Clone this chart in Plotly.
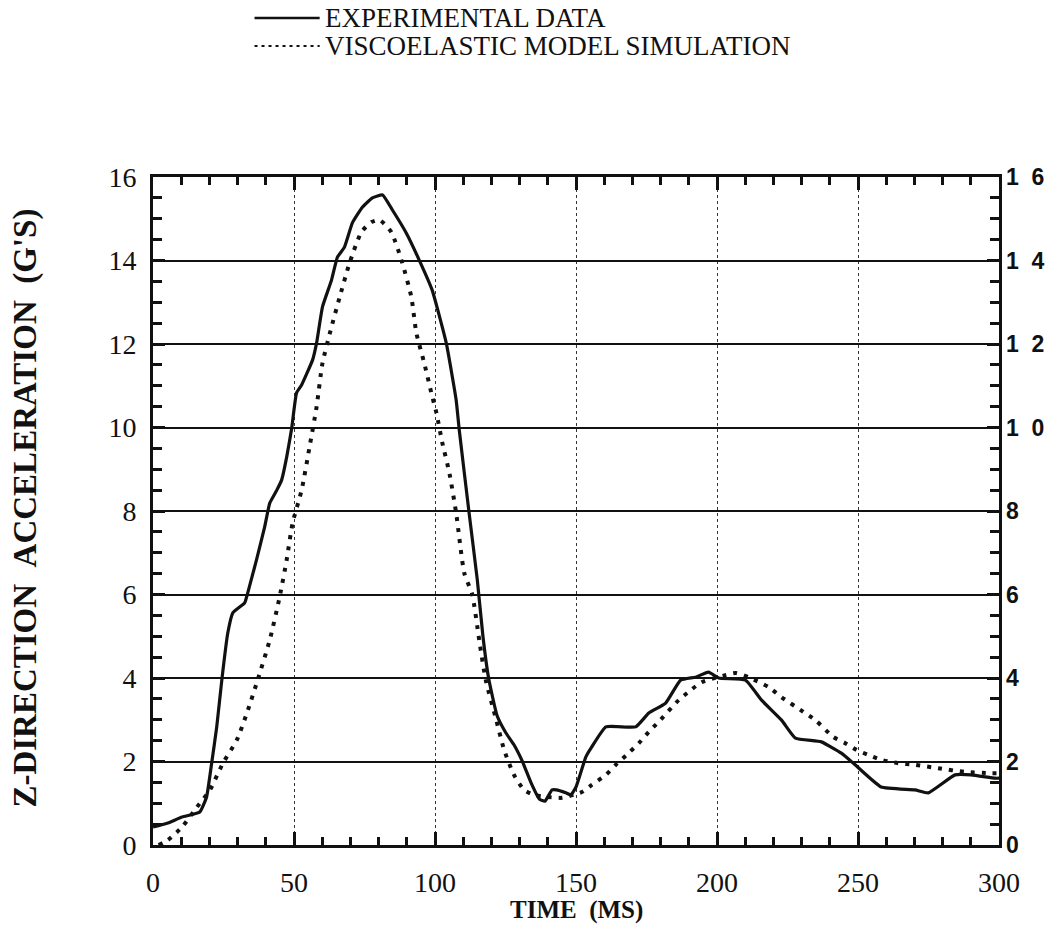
import plotly.graph_objects as go

# Measured Z-direction acceleration (G's) vs time (ms)
exp_time = [0, 5, 10.3, 16.6, 19, 20.8, 22.6, 24.4, 26.5, 28.3, 32.5, 33.6, 36.7, 39.6,
            41.4, 43.9, 45.6, 47.4, 49.2, 50.9, 52.7, 56.6, 58, 60.1, 63.3, 65.4, 67.9,
            70.7, 74.3, 77.8, 81.4, 84.9, 89.8, 94.4, 99, 104, 107.5, 108.6, 112.1, 115,
            117, 119, 122, 125, 128, 131, 134, 137, 139, 141.5, 143, 146.4, 148.2, 150,
            153.5, 155.6, 160.6, 171.2, 175.8, 181.8, 187.1, 192.4, 197, 200.6, 210.1,
            215.8, 222.9, 227.8, 237, 244.1, 249, 258.2, 270.2, 274.9, 284.4, 290.1,
            298.6, 300]
exp_accel = [0.43, 0.52, 0.67, 0.79, 1.15, 1.96, 2.83, 3.95, 5.07, 5.56, 5.8, 6.04, 6.83,
             7.62, 8.19, 8.5, 8.74, 9.29, 9.99, 10.83, 11.02, 11.62, 12.02, 12.89, 13.53,
             14.08, 14.32, 14.9, 15.28, 15.5, 15.57, 15.21, 14.66, 14.01, 13.29, 12.02,
             10.66, 9.94, 7.95, 6.35, 5.0, 4.0, 3.1, 2.7, 2.4, 2.0, 1.5, 1.1, 1.05, 1.32,
             1.32, 1.25, 1.2, 1.39, 2.11, 2.35, 2.83, 2.83, 3.16, 3.40, 3.95, 4.02, 4.14,
             4.0, 3.95, 3.47, 2.99, 2.56, 2.47, 2.2, 1.92, 1.39, 1.32, 1.25, 1.68, 1.68,
             1.6, 1.6]

# Viscoelastic model simulation
sim_time = [2, 5.3, 10.3, 15.6, 20.2, 24.8, 29.7, 33.3, 37.1, 41.4, 44.9, 47.4, 49.5,
            52.7, 55.5, 58, 60.1, 63.3, 66.1, 69.7, 73.9, 77.5, 80.3, 84.5, 88.4, 91.6,
            93.4, 96.2, 98.7, 100.5, 102.6, 105.1, 107.5, 110.4, 113.2, 115.7, 118,
            121.7, 124.5, 128, 131.6, 135, 140, 145, 152.1, 155.6, 160.6, 164.1, 168,
            172.3, 175.8, 179.3, 186.4, 190.7, 194.6, 203, 206.6, 211.2, 218.3, 222.9,
            230.6, 234.9, 241.2, 245.5, 249.4, 253.6, 258.2, 264.2, 270.2, 278.4, 287.9,
            297.1, 300]
sim_accel = [0.0, 0.12, 0.43, 0.91, 1.32, 1.96, 2.51, 3.16, 3.95, 4.91, 5.94, 6.83, 7.71,
             8.5, 9.53, 10.49, 11.54, 12.41, 13.1, 13.94, 14.68, 14.92, 14.97, 14.68,
             13.94, 13.13, 12.26, 11.54, 10.83, 10.35, 9.63, 8.91, 7.95, 6.51, 6.0, 4.9,
             3.95, 3.0, 2.28, 1.68, 1.32, 1.2, 1.15, 1.13, 1.27, 1.44, 1.68, 1.92, 2.16,
             2.44, 2.71, 2.95, 3.47, 3.71, 3.9, 4.07, 4.12, 4.02, 3.78, 3.54, 3.19, 2.99,
             2.59, 2.44, 2.28, 2.16, 2.04, 1.96, 1.92, 1.84, 1.75, 1.72, 1.72]

x_ticks = [0, 50, 100, 150, 200, 250, 300]
y_ticks = [0, 2, 4, 6, 8, 10, 12, 14, 16]
y_right_labels = ["0", "2", "4", "6", "8", "1\u00a0\u00a00", "1\u00a0\u00a02",
                  "1\u00a0\u00a04", "1\u00a0\u00a06"]

legend_names = ["EXPERIMENTAL DATA", "VISCOELASTIC MODEL SIMULATION"]

SERIF = "Liberation Serif, Times New Roman, serif"
SANS = "Liberation Sans, Arial, sans-serif"
INK = "#111111"
SIM_DASH = "4px,7px"

x_step = x_ticks[1] - x_ticks[0]
y_step = y_ticks[1] - y_ticks[0]
right_alias = {str(v): t for v, t in zip(y_ticks, y_right_labels)}

fig = go.Figure()

fig.add_trace(go.Scatter(
    x=exp_time, y=exp_accel, mode="lines", name=legend_names[0],
    line=dict(color=INK, width=3.2, shape="spline", smoothing=0.4),
    showlegend=False,
))
fig.add_trace(go.Scatter(
    x=sim_time, y=sim_accel, mode="lines", name=legend_names[1],
    line=dict(color=INK, width=4, dash=SIM_DASH, shape="spline", smoothing=0.6),
    showlegend=False,
))
# invisible trace that anchors the top/right tick axes
fig.add_trace(go.Scatter(x=[0], y=[0], xaxis="x2", yaxis="y2", mode="markers",
                         marker=dict(opacity=0), showlegend=False, hoverinfo="skip"))

# hand-drawn key above the plot
key_y = [1.238, 1.196]
for i, (name, dash) in enumerate(zip(legend_names, ["solid", "3px,4px"])):
    fig.add_shape(type="line", xref="paper", yref="paper",
                  x0=0.12, x1=0.197, y0=key_y[i], y1=key_y[i],
                  line=dict(color=INK, width=2.5 if i == 0 else 2, dash=dash))
    fig.add_annotation(xref="paper", yref="paper", x=0.201, y=key_y[i],
                       xanchor="left", yanchor="middle", showarrow=False,
                       text=name, font=dict(family=SERIF, size=27, color=INK))

fig.add_annotation(xref="paper", yref="paper", x=-0.151, y=0.504,
                   xanchor="center", yanchor="middle", showarrow=False, textangle=-90,
                   text="Z-DIRECTION\u00a0\u00a0ACCELERATION\u00a0\u00a0(G'S)",
                   font=dict(family=SERIF, size=33, color=INK, weight="bold"))
fig.add_annotation(xref="paper", yref="paper", x=0.5, y=-0.098,
                   xanchor="center", yanchor="middle", showarrow=False,
                   text="TIME\u00a0\u00a0(MS)",
                   font=dict(family=SERIF, size=25, color=INK, weight="bold"))

x_minor = dict(dtick=10, ticks="inside", ticklen=8, tickwidth=3, tickcolor=INK,
               showgrid=False)
y_minor = dict(dtick=0.5, ticks="inside", ticklen=9, tickwidth=3, tickcolor=INK,
               showgrid=False)
tick_common = dict(ticks="inside", tickwidth=3, tickcolor=INK)

fig.update_layout(
    width=1057, height=944,
    margin=dict(l=153, r=56, t=177, b=99),
    paper_bgcolor="white", plot_bgcolor="white",
    xaxis=dict(
        range=[x_ticks[0], x_ticks[-1]], tickmode="linear", tick0=x_ticks[0],
        dtick=x_step, ticklen=13, **tick_common,
        showline=True, linewidth=3, linecolor=INK, mirror=True,
        showgrid=True, gridcolor="#333333", gridwidth=1, griddash="dot",
        zeroline=False, ticklabelstandoff=10,
        tickfont=dict(family=SERIF, size=28, color=INK),
        minor=x_minor,
    ),
    xaxis2=dict(
        range=[x_ticks[0], x_ticks[-1]], overlaying="x", side="top", anchor="y",
        tickmode="linear", tick0=x_ticks[0], dtick=x_step, ticklen=13,
        **tick_common, showticklabels=False, showgrid=False,
        zeroline=False, showline=False, minor=x_minor,
    ),
    yaxis=dict(
        range=[y_ticks[0], y_ticks[-1]], tickmode="linear", tick0=y_ticks[0],
        dtick=y_step, ticklen=12, **tick_common,
        showline=True, linewidth=3, linecolor=INK, mirror=True,
        showgrid=True, gridcolor=INK, gridwidth=2, zeroline=False,
        ticklabelstandoff=8,
        tickfont=dict(family=SERIF, size=28, color=INK),
        minor=y_minor,
    ),
    yaxis2=dict(
        range=[y_ticks[0], y_ticks[-1]], overlaying="y", side="right", anchor="x",
        tickmode="linear", tick0=y_ticks[0], dtick=y_step, labelalias=right_alias,
        ticklen=12, **tick_common, showgrid=False,
        zeroline=False, showline=False, ticklabelstandoff=6,
        tickfont=dict(family=SANS, size=23, color=INK, weight="bold"),
        minor=y_minor,
    ),
)

fig.write_html("out.html")
